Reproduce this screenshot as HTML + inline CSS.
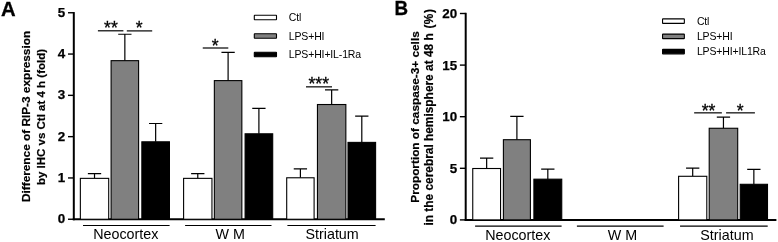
<!DOCTYPE html>
<html><head><meta charset="utf-8"><title>Figure</title>
<style>
html,body{margin:0;padding:0;background:#fff;}
svg{display:block;font-family:"Liberation Sans", sans-serif;fill:#000;}
</style></head><body>
<svg width="778" height="242" viewBox="0 0 778 242">
<rect width="778" height="242" fill="#fff"/>
<line x1="73.80" y1="12.05" x2="73.80" y2="220.25" stroke="#000" stroke-width="2.0"/>
<line x1="72.80" y1="219.25" x2="384.80" y2="219.25" stroke="#000" stroke-width="2.0"/>
<line x1="68.00" y1="219.25" x2="73.80" y2="219.25" stroke="#000" stroke-width="1.4"/>
<text x="65.30" y="223.35" font-size="13.4" text-anchor="end" font-weight="bold" stroke="#000" stroke-width="0.25">0</text>
<line x1="68.00" y1="177.95" x2="73.80" y2="177.95" stroke="#000" stroke-width="1.4"/>
<text x="65.30" y="182.05" font-size="13.4" text-anchor="end" font-weight="bold" stroke="#000" stroke-width="0.25">1</text>
<line x1="68.00" y1="136.65" x2="73.80" y2="136.65" stroke="#000" stroke-width="1.4"/>
<text x="65.30" y="140.75" font-size="13.4" text-anchor="end" font-weight="bold" stroke="#000" stroke-width="0.25">2</text>
<line x1="68.00" y1="95.35" x2="73.80" y2="95.35" stroke="#000" stroke-width="1.4"/>
<text x="65.30" y="99.45" font-size="13.4" text-anchor="end" font-weight="bold" stroke="#000" stroke-width="0.25">3</text>
<line x1="68.00" y1="54.05" x2="73.80" y2="54.05" stroke="#000" stroke-width="1.4"/>
<text x="65.30" y="58.15" font-size="13.4" text-anchor="end" font-weight="bold" stroke="#000" stroke-width="0.25">4</text>
<line x1="68.00" y1="12.75" x2="73.80" y2="12.75" stroke="#000" stroke-width="1.4"/>
<text x="65.30" y="16.85" font-size="13.4" text-anchor="end" font-weight="bold" stroke="#000" stroke-width="0.25">5</text>
<path d="M94.52 178.36V173.61M87.87 173.61H101.17" fill="none" stroke="#000" stroke-width="1.2"/>
<rect x="80.35" y="178.36" width="28.35" height="40.89" fill="#fff" stroke="#000" stroke-width="1.1"/>
<path d="M124.85 60.66V34.23M118.20 34.23H131.50" fill="none" stroke="#000" stroke-width="1.2"/>
<rect x="111.10" y="60.66" width="27.50" height="158.59" fill="#808080" stroke="#000" stroke-width="1.1"/>
<path d="M155.65 141.81V123.52M149.00 123.52H162.30" fill="none" stroke="#000" stroke-width="1.2"/>
<rect x="141.85" y="141.81" width="27.60" height="77.44" fill="#000" stroke="#000" stroke-width="1.1"/>
<path d="M197.78 178.36V173.65M191.12 173.65H204.43" fill="none" stroke="#000" stroke-width="1.2"/>
<rect x="183.60" y="178.36" width="28.35" height="40.89" fill="#fff" stroke="#000" stroke-width="1.1"/>
<path d="M228.10 80.61V52.40M221.45 52.40H234.75" fill="none" stroke="#000" stroke-width="1.2"/>
<rect x="214.35" y="80.61" width="27.50" height="138.64" fill="#808080" stroke="#000" stroke-width="1.1"/>
<path d="M258.90 133.80V108.40M252.25 108.40H265.55" fill="none" stroke="#000" stroke-width="1.2"/>
<rect x="245.10" y="133.80" width="27.60" height="85.45" fill="#000" stroke="#000" stroke-width="1.1"/>
<path d="M300.40 177.78V168.86M293.75 168.86H307.05" fill="none" stroke="#000" stroke-width="1.2"/>
<rect x="286.70" y="177.78" width="27.40" height="41.47" fill="#fff" stroke="#000" stroke-width="1.1"/>
<path d="M331.65 104.52V89.82M325.00 89.82H338.30" fill="none" stroke="#000" stroke-width="1.2"/>
<rect x="317.45" y="104.52" width="28.40" height="114.73" fill="#808080" stroke="#000" stroke-width="1.1"/>
<path d="M361.80 142.39V116.08M355.15 116.08H368.45" fill="none" stroke="#000" stroke-width="1.2"/>
<rect x="348.00" y="142.39" width="27.60" height="76.86" fill="#000" stroke="#000" stroke-width="1.1"/>
<line x1="83.00" y1="225.50" x2="169.60" y2="225.50" stroke="#000" stroke-width="1.1"/>
<text transform="translate(125.80,239.40) scale(1.03,1)" font-size="13.9" text-anchor="middle">Neocortex</text>
<line x1="185.10" y1="225.50" x2="271.50" y2="225.50" stroke="#000" stroke-width="1.1"/>
<text transform="translate(230.30,239.40) scale(1.03,1)" font-size="13.9" text-anchor="middle">W M</text>
<line x1="287.40" y1="225.50" x2="375.60" y2="225.50" stroke="#000" stroke-width="1.1"/>
<text transform="translate(332.10,239.40) scale(1.03,1)" font-size="13.9" text-anchor="middle">Striatum</text>
<line x1="97.90" y1="30.80" x2="123.40" y2="30.80" stroke="#000" stroke-width="1.2"/>
<text x="110.90" y="34.40" font-size="17.6" text-anchor="middle" font-weight="normal" stroke="#000" stroke-width="0.3">**</text>
<line x1="126.80" y1="30.90" x2="152.20" y2="30.90" stroke="#000" stroke-width="1.2"/>
<text x="139.30" y="34.40" font-size="17.6" text-anchor="middle" font-weight="normal" stroke="#000" stroke-width="0.3">*</text>
<line x1="202.75" y1="48.00" x2="228.30" y2="48.00" stroke="#000" stroke-width="1.2"/>
<text x="215.30" y="52.40" font-size="17.6" text-anchor="middle" font-weight="normal" stroke="#000" stroke-width="0.3">*</text>
<line x1="306.00" y1="86.85" x2="332.00" y2="86.85" stroke="#000" stroke-width="1.2"/>
<text x="318.80" y="90.00" font-size="17.6" text-anchor="middle" font-weight="normal" stroke="#000" stroke-width="0.3">***</text>
<rect x="254.3" y="15.25" width="22.2" height="4.5" rx="0.4" fill="#fff" stroke="#000" stroke-width="1.1"/>
<text x="288.80" y="21.40" font-size="10.5" text-anchor="start" font-weight="normal" letter-spacing="-0.15">Ctl</text>
<rect x="254.3" y="33.75" width="22.2" height="4.5" rx="0.4" fill="#808080" stroke="#000" stroke-width="1.1"/>
<text x="288.80" y="39.90" font-size="10.5" text-anchor="start" font-weight="normal" letter-spacing="-0.15">LPS+HI</text>
<rect x="254.3" y="52.25" width="22.2" height="4.5" rx="0.4" fill="#000" stroke="#000" stroke-width="1.1"/>
<text x="288.80" y="58.40" font-size="10.5" text-anchor="start" font-weight="normal" letter-spacing="-0.15">LPS+HI+IL-1Ra</text>
<text x="1.10" y="15.60" font-size="20.3" text-anchor="start" font-weight="bold" stroke="#000" stroke-width="0.3">A</text>
<text transform="translate(30.1,116.45) rotate(-90)" font-size="11.8" font-weight="bold" stroke="#000" stroke-width="0.2" text-anchor="middle">Difference of RIP-3 expression</text>
<text transform="translate(44.5,117) rotate(-90)" font-size="11.5" font-weight="bold" stroke="#000" stroke-width="0.2" text-anchor="middle">by IHC vs Ctl at 4 h (fold)</text>
<line x1="465.70" y1="12.80" x2="465.70" y2="220.90" stroke="#000" stroke-width="2.0"/>
<line x1="464.70" y1="219.90" x2="776.40" y2="219.90" stroke="#000" stroke-width="2.0"/>
<line x1="459.90" y1="219.90" x2="465.70" y2="219.90" stroke="#000" stroke-width="1.4"/>
<text x="457.20" y="224.30" font-size="13.4" text-anchor="end" font-weight="bold" stroke="#000" stroke-width="0.25">0</text>
<line x1="459.90" y1="168.30" x2="465.70" y2="168.30" stroke="#000" stroke-width="1.4"/>
<text x="457.20" y="172.70" font-size="13.4" text-anchor="end" font-weight="bold" stroke="#000" stroke-width="0.25">5</text>
<line x1="459.90" y1="116.70" x2="465.70" y2="116.70" stroke="#000" stroke-width="1.4"/>
<text x="457.20" y="121.10" font-size="13.4" text-anchor="end" font-weight="bold" stroke="#000" stroke-width="0.25">10</text>
<line x1="459.90" y1="65.10" x2="465.70" y2="65.10" stroke="#000" stroke-width="1.4"/>
<text x="457.20" y="69.50" font-size="13.4" text-anchor="end" font-weight="bold" stroke="#000" stroke-width="0.25">15</text>
<line x1="459.90" y1="13.50" x2="465.70" y2="13.50" stroke="#000" stroke-width="1.4"/>
<text x="457.20" y="17.90" font-size="13.4" text-anchor="end" font-weight="bold" stroke="#000" stroke-width="0.25">20</text>
<path d="M486.65 168.51V158.19M480.00 158.19H493.30" fill="none" stroke="#000" stroke-width="1.2"/>
<rect x="472.75" y="168.51" width="27.80" height="51.39" fill="#fff" stroke="#000" stroke-width="1.1"/>
<path d="M516.90 139.71V116.39M510.25 116.39H523.55" fill="none" stroke="#000" stroke-width="1.2"/>
<rect x="503.40" y="139.71" width="27.00" height="80.19" fill="#808080" stroke="#000" stroke-width="1.1"/>
<path d="M547.82 179.18V169.13M541.17 169.13H554.47" fill="none" stroke="#000" stroke-width="1.2"/>
<rect x="533.90" y="179.18" width="27.85" height="40.72" fill="#000" stroke="#000" stroke-width="1.1"/>
<path d="M692.70 176.29V168.09M686.05 168.09H699.35" fill="none" stroke="#000" stroke-width="1.2"/>
<rect x="678.60" y="176.29" width="28.20" height="43.61" fill="#fff" stroke="#000" stroke-width="1.1"/>
<path d="M723.45 128.26V117.11M716.80 117.11H730.10" fill="none" stroke="#000" stroke-width="1.2"/>
<rect x="709.20" y="128.26" width="28.50" height="91.64" fill="#808080" stroke="#000" stroke-width="1.1"/>
<path d="M753.85 184.30V169.39M747.20 169.39H760.50" fill="none" stroke="#000" stroke-width="1.2"/>
<rect x="740.20" y="184.30" width="27.30" height="35.60" fill="#000" stroke="#000" stroke-width="1.1"/>
<line x1="475.10" y1="226.10" x2="561.60" y2="226.10" stroke="#000" stroke-width="1.1"/>
<text transform="translate(517.80,239.70) scale(1.03,1)" font-size="13.9" text-anchor="middle">Neocortex</text>
<line x1="576.90" y1="226.10" x2="663.60" y2="226.10" stroke="#000" stroke-width="1.1"/>
<text transform="translate(622.40,239.70) scale(1.03,1)" font-size="13.9" text-anchor="middle">W M</text>
<line x1="680.05" y1="226.10" x2="767.70" y2="226.10" stroke="#000" stroke-width="1.1"/>
<text transform="translate(726.90,239.70) scale(1.03,1)" font-size="13.9" text-anchor="middle">Striatum</text>
<line x1="694.15" y1="112.85" x2="721.85" y2="112.85" stroke="#000" stroke-width="1.2"/>
<text x="708.50" y="116.60" font-size="17.6" text-anchor="middle" font-weight="normal" stroke="#000" stroke-width="0.3">**</text>
<line x1="726.10" y1="112.85" x2="754.90" y2="112.85" stroke="#000" stroke-width="1.2"/>
<text x="740.30" y="116.60" font-size="17.6" text-anchor="middle" font-weight="normal" stroke="#000" stroke-width="0.3">*</text>
<rect x="662.55" y="18.85" width="21.8" height="4.5" rx="0.4" fill="#fff" stroke="#000" stroke-width="1.1"/>
<text x="696.90" y="24.80" font-size="10.5" text-anchor="start" font-weight="normal" letter-spacing="-0.15">Ctl</text>
<rect x="662.55" y="34.10" width="21.8" height="4.5" rx="0.4" fill="#808080" stroke="#000" stroke-width="1.1"/>
<text x="696.90" y="40.05" font-size="10.5" text-anchor="start" font-weight="normal" letter-spacing="-0.15">LPS+HI</text>
<rect x="662.55" y="49.35" width="21.8" height="4.5" rx="0.4" fill="#000" stroke="#000" stroke-width="1.1"/>
<text x="696.90" y="55.30" font-size="10.5" text-anchor="start" font-weight="normal" letter-spacing="-0.15">LPS+HI+IL1Ra</text>
<text transform="translate(394.4,15.1) scale(0.94,1)" font-size="20" font-weight="bold" stroke="#000" stroke-width="0.3">B</text>
<text transform="translate(418.5,117.0) rotate(-90)" font-size="11.8" font-weight="bold" stroke="#000" stroke-width="0.2" text-anchor="middle">Proportion of caspase-3+ cells</text>
<text transform="translate(433,225.6) rotate(-90)" font-size="11.9" font-weight="bold" stroke="#000" stroke-width="0.2" text-anchor="start">in the cerebral hemisphere at 48 h</text>
<text transform="translate(433,8.6) rotate(-90)" font-size="11.9" font-weight="bold" stroke="#000" stroke-width="0.2" text-anchor="end" letter-spacing="0.5">(%)</text>
</svg>
</body></html>
